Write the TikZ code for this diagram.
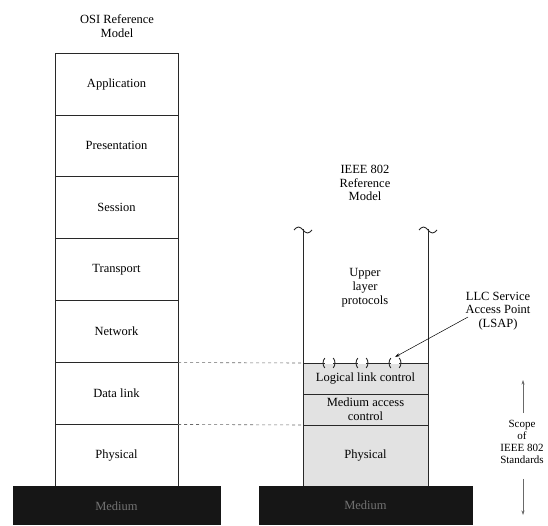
\documentclass[tikz,border=0pt]{standalone}
\usepackage{fontspec}
\setmainfont{Liberation Serif}
\usetikzlibrary{positioning,arrows.meta,calc}
\definecolor{LayerInk}{RGB}{40,40,40}
\definecolor{StippleGray}{RGB}{226,226,226}
\definecolor{MediumBlack}{RGB}{22,22,22}
\definecolor{MediumText}{RGB}{115,115,115}
\definecolor{GuideGray}{RGB}{105,105,105}
\newcommand{\labelfont}{\fontsize{12.5}{13.8}\selectfont}
\newcommand{\smalllabelfont}{\fontsize{11}{11.8}\selectfont}
\tikzset{
  osilayer/.style={draw=LayerInk,line width=0.9pt,minimum width=123pt,
    minimum height=61.9pt,outer sep=0pt,inner sep=0pt,align=center,font=\labelfont},
  ieeelayer/.style={draw=LayerInk,fill=StippleGray,line width=0.9pt,minimum width=125pt,
    outer sep=0pt,inner sep=0pt,align=center,font=\labelfont},
  medium/.style={fill=MediumBlack,text=MediumText,minimum height=39pt,
    outer sep=0pt,font=\labelfont},
  title/.style={align=center,font=\labelfont},
  sidewall/.style={draw=LayerInk,line width=0.9pt},
  sapdash/.style={draw=GuideGray,dash pattern=on 3pt off 3pt,line width=0.6pt},
  pointer/.style={-{Stealth[length=5pt,width=3pt]},line width=0.5pt},
  scopeline/.style={-{Stealth[length=4.5pt,width=3pt]},draw=GuideGray,line width=0.5pt}
}
\begin{document}
\begin{tikzpicture}[x=1pt,y=-1pt,node distance=0pt]
  \useasboundingbox (0,0) rectangle (548,525);
  \node[title] (osititle) at (117,26.5) {OSI Reference\\Model};
  \node[osilayer] (app) at (116.5,84) {Application};
  \node[osilayer,below=of app] (pres) {Presentation};
  \node[osilayer,below=of pres] (sess) {Session};
  \node[osilayer,below=of sess] (trans) {Transport};
  \node[osilayer,below=of trans] (net) {Network};
  \node[osilayer,below=of net] (dlink) {Data link};
  \node[osilayer,below=of dlink] (phys) {Physical};
  \node[medium,minimum width=208pt,below=of phys] (osimed) {Medium};

  \node[title] (ieeetitle) at (365,183) {IEEE 802\\Reference\\Model};
  \node[ieeelayer,minimum height=31pt] (llc) at (365.5,378.5) {Logical link control};
  \node[ieeelayer,minimum height=31pt,below=of llc] (mac) {Medium access\\control};
  \node[ieeelayer,minimum height=61pt,below=of mac] (phy) {Physical};
  \node[medium,minimum width=214pt,below=of phy] (ieeemed) {Medium};

  \coordinate (lefttop) at (303,229);
  \coordinate (righttop) at (428,229);
  \draw[sidewall] (lefttop) -- (llc.north west);
  \draw[sidewall] (righttop) -- (llc.north east);
  \foreach \top in {lefttop,righttop}
    \draw[sidewall] ([shift={(-9,1)}]\top) sin ++(4.5,-3) cos ++(4.5,3) sin ++(4.5,3) cos ++(4.5,-3);
  \node[title] (upper) at (365,288) {Upper\\layer\\protocols};

  \foreach \sx [count=\i] in {329,362,395} {
    \coordinate (sap\i) at (\sx,363);
    \draw[white,line width=2pt] ([xshift=-4pt]sap\i) -- ([xshift=4pt]sap\i);
    \draw[sidewall] ([shift={(-4.2,5)}]sap\i) arc[start angle=135,end angle=225,x radius=6,y radius=7];
    \draw[sidewall] ([shift={(4.2,-5)}]sap\i) arc[start angle=-45,end angle=45,x radius=6,y radius=7];
  }

  \draw[sapdash] (dlink.north east) -- (llc.north west);
  \draw[sapdash] (phys.north east) -- (mac.south west);

  \node[title] (lsap) at (498,311) {LLC Service\\Access Point\\(LSAP)};
  \coordinate (saptip) at (395,357);
  \draw[pointer] ([shift={(6,6)}]lsap.west) -- (saptip);

  \node[align=center,font=\smalllabelfont] (scope) at (522,442) {Scope\\of\\IEEE 802\\Standards};
  \coordinate (scopeup) at (523,380);
  \coordinate (scopedown) at (523,515);
  \draw[scopeline,shorten <=4pt] (scope.north -| scopeup) -- (scopeup);
  \draw[scopeline,shorten <=12pt] (scope.south -| scopedown) -- (scopedown);
\end{tikzpicture}
\end{document}
